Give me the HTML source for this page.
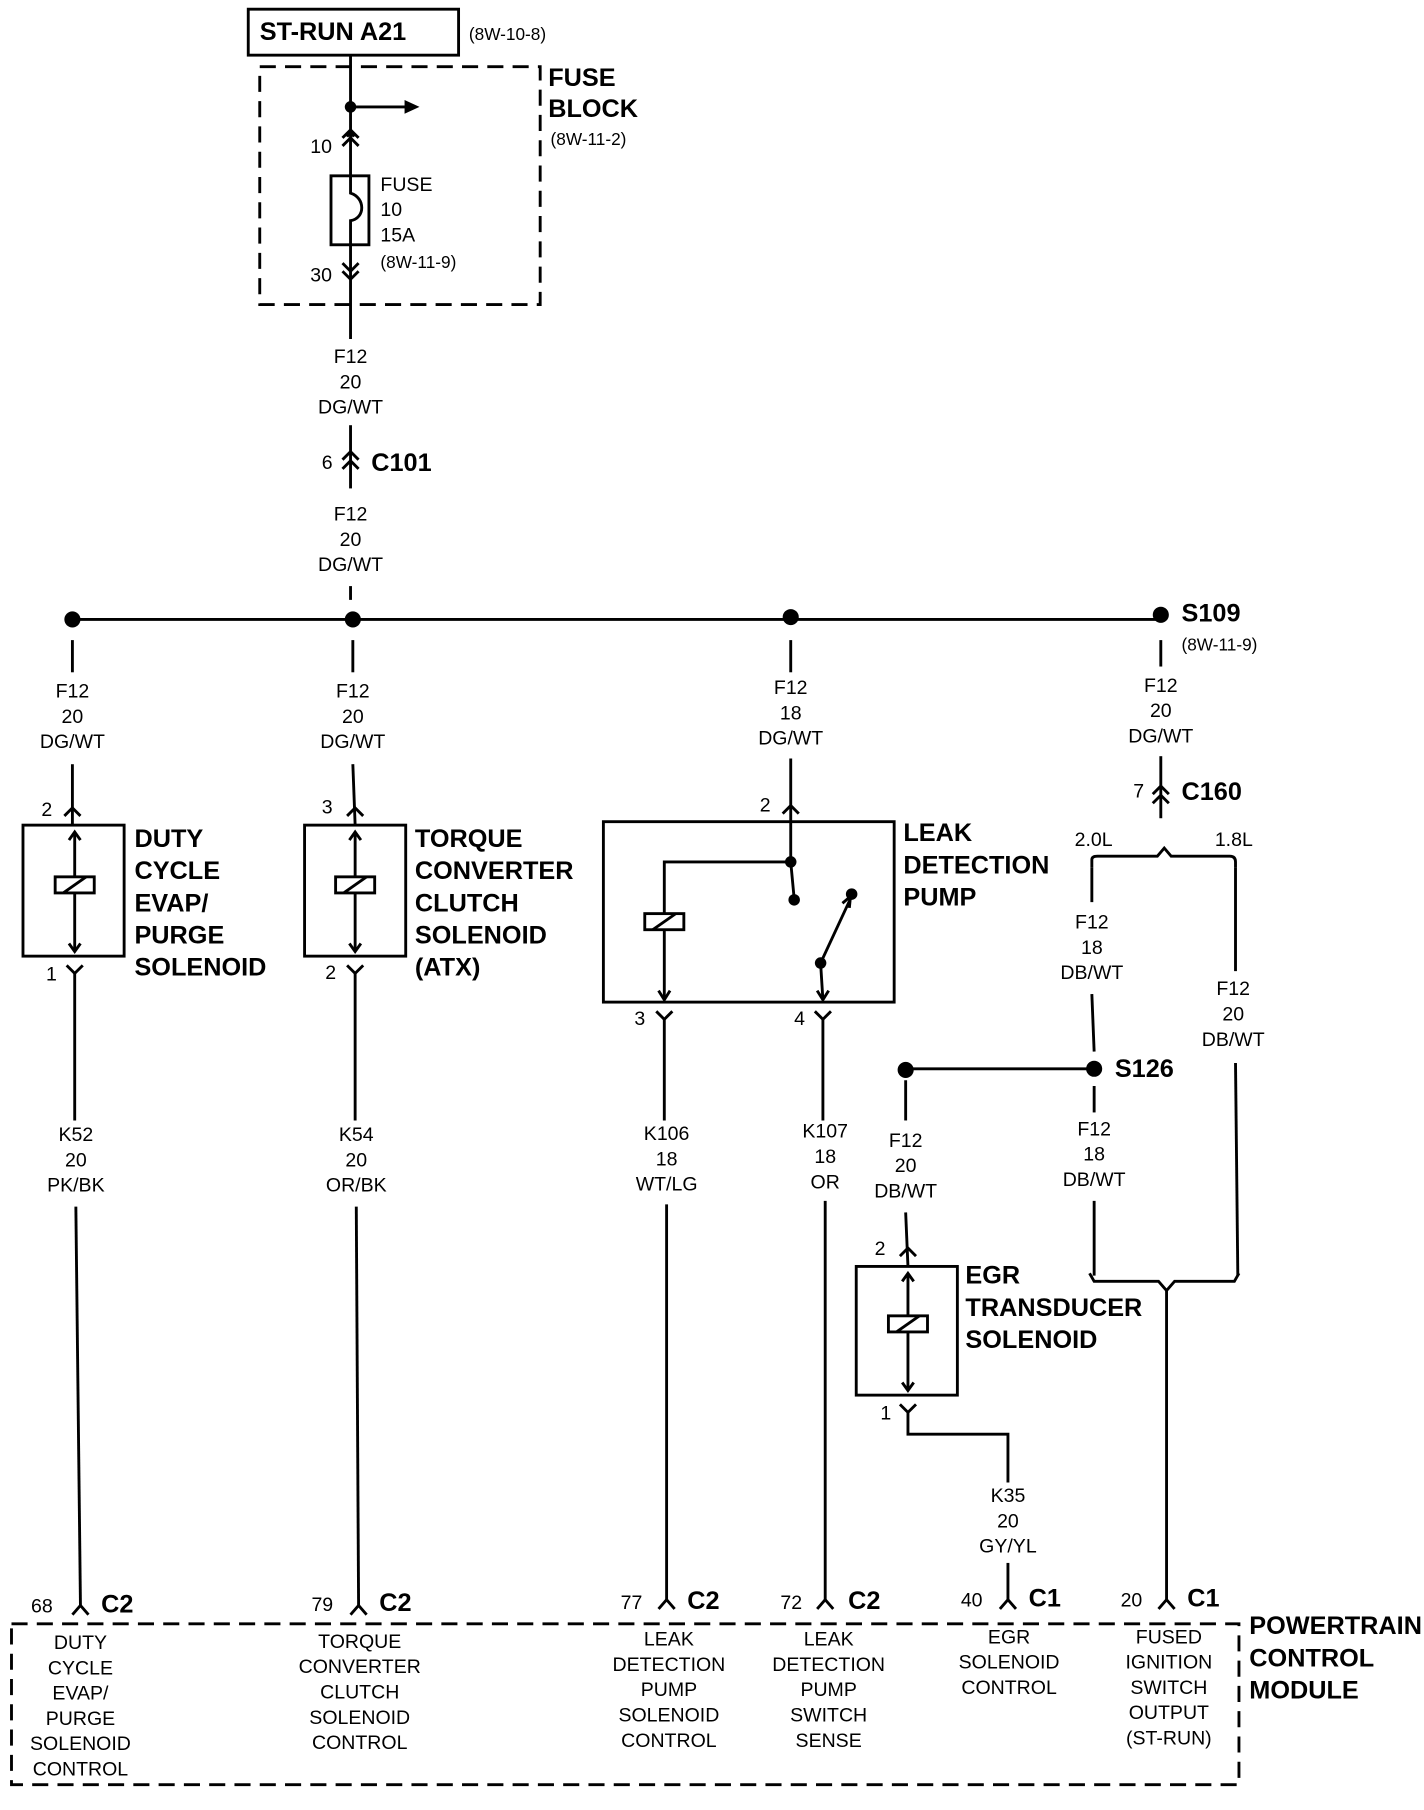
<!DOCTYPE html>
<html><head><meta charset="utf-8"><style>
html,body{margin:0;padding:0;background:#fff}
svg{display:block}
text{font-family:"Liberation Sans Narrow","Liberation Sans",sans-serif;fill:#000}
.s{font-size:17px;text-anchor:middle}
.l{font-size:17px}
.b{font-size:22px;font-weight:bold}
</style></head><body>
<svg width="1424" height="1810" viewBox="0 0 1239 1575" preserveAspectRatio="none" xmlns="http://www.w3.org/2000/svg">
<g stroke="#000" stroke-width="2.5" fill="none">
<!-- top -->
<rect x="216" y="8" width="183" height="40"/>
<rect x="226" y="58" width="244" height="207" stroke-dasharray="14,8"/>
<line x1="305" y1="48" x2="305" y2="153"/>
<line x1="305" y1="93" x2="355" y2="93"/>
<polyline points="302,119 305,114 308,119"/>
<polyline points="298,127 305,120 312,127"/>
<polyline points="298,120 305,113 312,120"/>
<rect x="288" y="153" width="33" height="60"/>
<path d="M305,153 L305,168 C318,172 318,190 305,192 L305,213"/>
<line x1="305" y1="213" x2="305" y2="295"/>
<polyline points="298,229 305,236 312,229"/>
<polyline points="298,236 305,243 312,236"/>
<line x1="305" y1="370" x2="305" y2="425"/>
<polyline points="298,400 305,393 312,400"/>
<polyline points="298,408 305,401 312,408"/>
<line x1="305" y1="510" x2="305" y2="522"/>
<line x1="63" y1="539" x2="1010" y2="539"/>
<!-- branch 1 -->
<line x1="63" y1="557" x2="63" y2="585"/>
<line x1="63" y1="665" x2="63" y2="718"/>
<polyline points="56,710 63,703 70,710"/>
<rect x="20" y="718" width="88" height="114"/>
<line x1="65" y1="724" x2="65" y2="828"/>
<polyline points="60,731 65,724 70,731"/><polyline points="60,821 65,828 70,821"/>
<rect x="48" y="763" width="34" height="14" fill="#fff"/><line x1="55" y1="777" x2="75" y2="763"/>
<polyline points="58,840 65,847 72,840"/>
<line x1="65" y1="847" x2="65" y2="975"/>
<line x1="66" y1="1050" x2="70" y2="1397"/>
<polyline points="63,1405 70,1397 77,1405"/>
<!-- branch 2 -->
<line x1="307" y1="557" x2="307" y2="585"/>
<line x1="307" y1="665" x2="309" y2="718"/>
<polyline points="302,710 309,703 316,710"/>
<rect x="265" y="718" width="88" height="114"/>
<line x1="309" y1="724" x2="309" y2="828"/>
<polyline points="304,731 309,724 314,731"/><polyline points="304,821 309,828 314,821"/>
<rect x="292" y="763" width="34" height="14" fill="#fff"/><line x1="299" y1="777" x2="319" y2="763"/>
<polyline points="302,840 309,847 316,840"/>
<line x1="309" y1="847" x2="309" y2="975"/>
<line x1="310" y1="1050" x2="312" y2="1397"/>
<polyline points="305,1405 312,1397 319,1405"/>
<!-- branch 3 -->
<line x1="688" y1="557" x2="688" y2="585"/>
<line x1="688" y1="660" x2="688" y2="750"/>
<polyline points="681,708 688,701 695,708"/>
<rect x="525" y="715" width="253" height="157"/>
<polyline points="688,750 578,750 578,870"/>
<polyline points="573,862 578,870 583,862"/>
<rect x="561" y="795" width="34" height="14" fill="#fff"/><line x1="568" y1="809" x2="588" y2="795"/>
<line x1="688" y1="750" x2="691" y2="782"/>
<line x1="714" y1="838" x2="740" y2="782"/>
<polyline points="733,786 740,780 739,790"/>
<line x1="714" y1="838" x2="716" y2="870"/>
<polyline points="711,862 716,870 721,862"/>
<polyline points="571,880 578,887 585,880"/>
<line x1="578" y1="887" x2="578" y2="975"/>
<line x1="580" y1="1048" x2="580" y2="1392"/>
<polyline points="573,1400 580,1392 587,1400"/>
<polyline points="709,880 716,887 723,880"/>
<line x1="716" y1="887" x2="716" y2="975"/>
<line x1="718" y1="1045" x2="718" y2="1392"/>
<polyline points="711,1400 718,1392 725,1400"/>
<!-- branch 4 -->
<line x1="1010" y1="557" x2="1010" y2="580"/>
<line x1="1010" y1="658" x2="1010" y2="712"/>
<polyline points="1003,691 1010,684 1017,691"/>
<polyline points="1003,699 1010,692 1017,699"/>
<path d="M950,755 L950,748 Q950,745 955,745 L1007,745 L1013,738 L1019,745 L1070,745 Q1075,745 1075,750 L1075,755"/>
<line x1="950" y1="755" x2="950" y2="785"/>
<line x1="950" y1="865" x2="952" y2="915"/>
<line x1="788" y1="930" x2="952" y2="930"/>
<line x1="1075" y1="755" x2="1075" y2="845"/>
<line x1="1075" y1="925" x2="1077" y2="1110"/>
<line x1="952" y1="945" x2="952" y2="968"/>
<line x1="952" y1="1045" x2="952" y2="1110"/>
<path d="M948,1108 L952,1115 L1008,1115 L1015,1123 L1022,1115 L1074,1115 L1078,1108"/>
<line x1="1015" y1="1123" x2="1015" y2="1392"/>
<polyline points="1008,1400 1015,1392 1022,1400"/>
<!-- EGR -->
<line x1="788" y1="940" x2="788" y2="975"/>
<line x1="788" y1="1055" x2="790" y2="1102"/>
<polyline points="783,1093 790,1086 797,1093"/>
<rect x="745" y="1102" width="88" height="112"/>
<line x1="790" y1="1108" x2="790" y2="1210"/>
<polyline points="785,1115 790,1108 795,1115"/><polyline points="785,1203 790,1210 795,1203"/>
<rect x="773" y="1145" width="34" height="14" fill="#fff"/><line x1="780" y1="1159" x2="800" y2="1145"/>
<polyline points="783,1222 790,1229 797,1222"/>
<polyline points="790,1229 790,1248 877,1248 877,1290"/>
<line x1="877" y1="1360" x2="877" y2="1392"/>
<polyline points="870,1400 877,1392 884,1400"/>
<!-- PCM -->
<rect x="10" y="1413" width="1068" height="140" stroke-dasharray="14,8"/>
</g>
<polygon points="365,93 352,87 352,99" fill="#000"/>
<g fill="#000">
<circle cx="305" cy="93" r="5"/>
<circle cx="63" cy="539" r="7"/><circle cx="307" cy="539" r="7"/><circle cx="688" cy="537" r="7"/><circle cx="1010" cy="535" r="7"/>
<circle cx="688" cy="750" r="5"/><circle cx="691" cy="783" r="5"/><circle cx="741" cy="778" r="5"/><circle cx="714" cy="838" r="5"/>
<circle cx="952" cy="930" r="7"/><circle cx="788" cy="931" r="7"/>
</g>
<text x="226" y="35" class="b">ST-RUN A21</text>
<text x="408" y="35" class="l" style="font-size:15px">(8W-10-8)</text>
<text x="477" y="75" class="b">FUSE</text><text x="477" y="102" class="b">BLOCK</text>
<text x="479" y="126" class="l" style="font-size:15px">(8W-11-2)</text>
<text x="270" y="133" class="l">10</text><text x="270" y="245" class="l">30</text>
<text x="331" y="166" class="l">FUSE</text><text x="331" y="188" class="l">10</text><text x="331" y="210" class="l">15A</text><text x="331" y="233" class="l" style="font-size:15px">(8W-11-9)</text>
<text x="305" y="316" class="s">F12</text><text x="305" y="338" class="s">20</text><text x="305" y="360" class="s">DG/WT</text>
<text x="280" y="408" class="l">6</text><text x="323" y="410" class="b">C101</text>
<text x="305" y="453" class="s">F12</text><text x="305" y="475" class="s">20</text><text x="305" y="497" class="s">DG/WT</text>
<text x="1028" y="541" class="b">S109</text><text x="1028" y="566" class="l" style="font-size:15px">(8W-11-9)</text>
<text x="63" y="607" class="s">F12</text><text x="63" y="629" class="s">20</text><text x="63" y="651" class="s">DG/WT</text>
<text x="307" y="607" class="s">F12</text><text x="307" y="629" class="s">20</text><text x="307" y="651" class="s">DG/WT</text>
<text x="688" y="604" class="s">F12</text><text x="688" y="626" class="s">18</text><text x="688" y="648" class="s">DG/WT</text>
<text x="1010" y="602" class="s">F12</text><text x="1010" y="624" class="s">20</text><text x="1010" y="646" class="s">DG/WT</text>
<text x="36" y="710" class="l">2</text><text x="280" y="708" class="l">3</text><text x="661" y="706" class="l">2</text>
<text x="986" y="694" class="l">7</text><text x="1028" y="696" class="b">C160</text>
<text x="935" y="736" class="l">2.0L</text><text x="1057" y="736" class="l">1.8L</text>
<text x="117" y="737" class="b">DUTY</text><text x="117" y="765" class="b">CYCLE</text><text x="117" y="793" class="b">EVAP/</text><text x="117" y="821" class="b">PURGE</text><text x="117" y="849" class="b">SOLENOID</text>
<text x="361" y="737" class="b">TORQUE</text><text x="361" y="765" class="b">CONVERTER</text><text x="361" y="793" class="b">CLUTCH</text><text x="361" y="821" class="b">SOLENOID</text><text x="361" y="849" class="b">(ATX)</text>
<text x="786" y="732" class="b">LEAK</text><text x="786" y="760" class="b">DETECTION</text><text x="786" y="788" class="b">PUMP</text>
<text x="40" y="853" class="l">1</text><text x="283" y="852" class="l">2</text><text x="552" y="892" class="l">3</text><text x="691" y="892" class="l">4</text>
<text x="950" y="808" class="s">F12</text><text x="950" y="830" class="s">18</text><text x="950" y="852" class="s">DB/WT</text>
<text x="1073" y="866" class="s">F12</text><text x="1073" y="888" class="s">20</text><text x="1073" y="910" class="s">DB/WT</text>
<text x="970" y="937" class="b">S126</text>
<text x="66" y="993" class="s">K52</text><text x="66" y="1015" class="s">20</text><text x="66" y="1037" class="s">PK/BK</text>
<text x="310" y="993" class="s">K54</text><text x="310" y="1015" class="s">20</text><text x="310" y="1037" class="s">OR/BK</text>
<text x="580" y="992" class="s">K106</text><text x="580" y="1014" class="s">18</text><text x="580" y="1036" class="s">WT/LG</text>
<text x="718" y="990" class="s">K107</text><text x="718" y="1012" class="s">18</text><text x="718" y="1034" class="s">OR</text>
<text x="788" y="998" class="s">F12</text><text x="788" y="1020" class="s">20</text><text x="788" y="1042" class="s">DB/WT</text>
<text x="952" y="988" class="s">F12</text><text x="952" y="1010" class="s">18</text><text x="952" y="1032" class="s">DB/WT</text>
<text x="761" y="1092" class="l">2</text><text x="766" y="1235" class="l">1</text>
<text x="840" y="1117" class="b">EGR</text><text x="840" y="1145" class="b">TRANSDUCER</text><text x="840" y="1173" class="b">SOLENOID</text>
<text x="877" y="1307" class="s">K35</text><text x="877" y="1329" class="s">20</text><text x="877" y="1351" class="s">GY/YL</text>
<text x="27" y="1403" class="l">68</text><text x="88" y="1403" class="b">C2</text>
<text x="271" y="1402" class="l">79</text><text x="330" y="1402" class="b">C2</text>
<text x="540" y="1400" class="l">77</text><text x="598" y="1400" class="b">C2</text>
<text x="679" y="1400" class="l">72</text><text x="738" y="1400" class="b">C2</text>
<text x="836" y="1398" class="l">40</text><text x="895" y="1398" class="b">C1</text>
<text x="975" y="1398" class="l">20</text><text x="1033" y="1398" class="b">C1</text>
<text x="1087" y="1422" class="b">POWERTRAIN</text><text x="1087" y="1450" class="b">CONTROL</text><text x="1087" y="1478" class="b">MODULE</text>
<g class="s">
<text x="70" y="1435" class="s">DUTY</text><text x="70" y="1457" class="s">CYCLE</text><text x="70" y="1479" class="s">EVAP/</text><text x="70" y="1501" class="s">PURGE</text><text x="70" y="1523" class="s">SOLENOID</text><text x="70" y="1545" class="s">CONTROL</text>
<text x="313" y="1434" class="s">TORQUE</text><text x="313" y="1456" class="s">CONVERTER</text><text x="313" y="1478" class="s">CLUTCH</text><text x="313" y="1500" class="s">SOLENOID</text><text x="313" y="1522" class="s">CONTROL</text>
<text x="582" y="1432" class="s">LEAK</text><text x="582" y="1454" class="s">DETECTION</text><text x="582" y="1476" class="s">PUMP</text><text x="582" y="1498" class="s">SOLENOID</text><text x="582" y="1520" class="s">CONTROL</text>
<text x="721" y="1432" class="s">LEAK</text><text x="721" y="1454" class="s">DETECTION</text><text x="721" y="1476" class="s">PUMP</text><text x="721" y="1498" class="s">SWITCH</text><text x="721" y="1520" class="s">SENSE</text>
<text x="878" y="1430" class="s">EGR</text><text x="878" y="1452" class="s">SOLENOID</text><text x="878" y="1474" class="s">CONTROL</text>
<text x="1017" y="1430" class="s">FUSED</text><text x="1017" y="1452" class="s">IGNITION</text><text x="1017" y="1474" class="s">SWITCH</text><text x="1017" y="1496" class="s">OUTPUT</text><text x="1017" y="1518" class="s">(ST-RUN)</text>
</g>
</svg>
</body></html>
